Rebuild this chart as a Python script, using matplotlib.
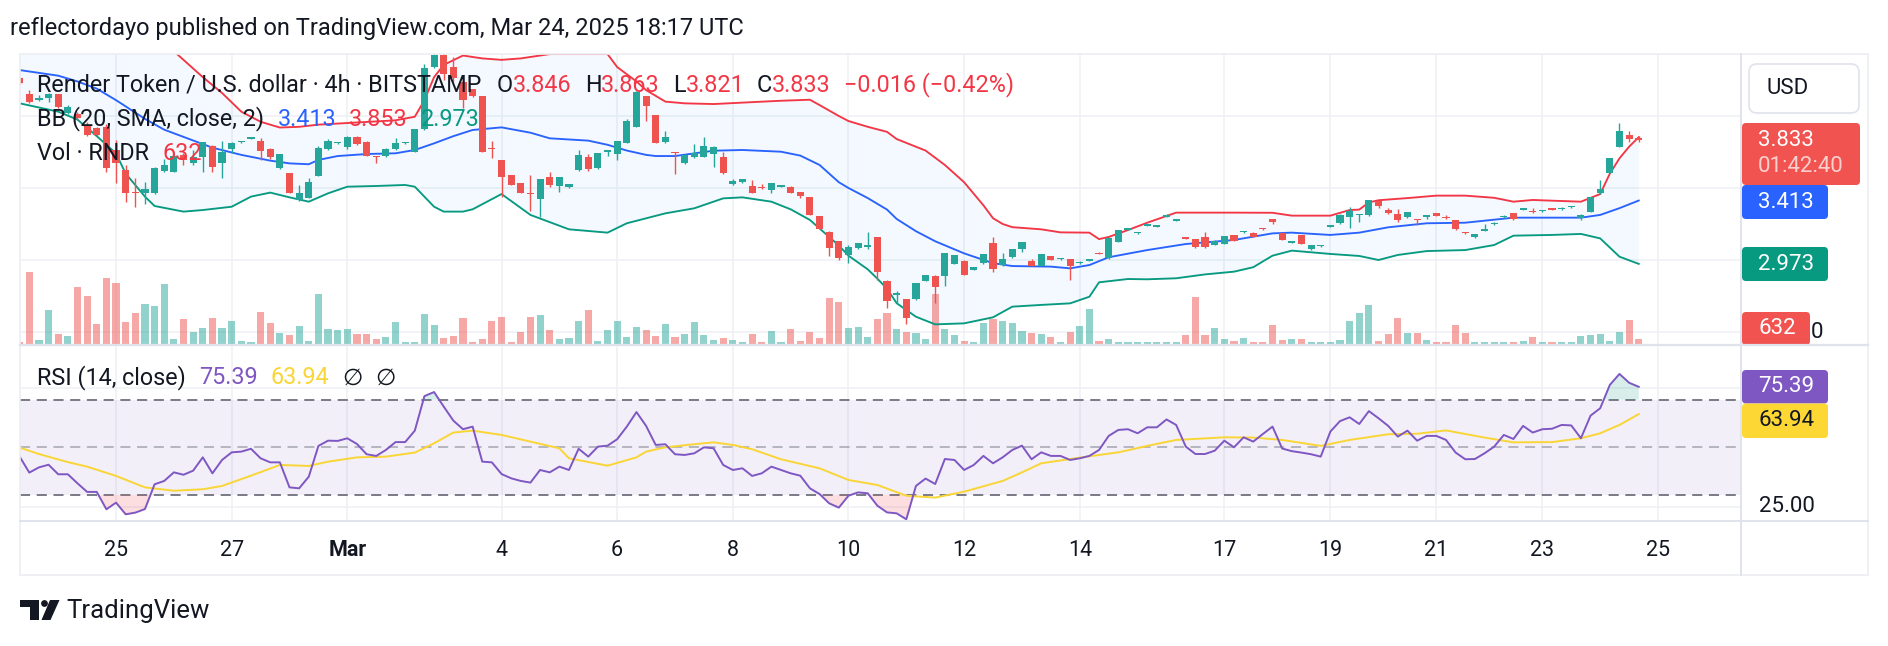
import numpy as np
import matplotlib.pyplot as plt
from matplotlib.patches import FancyBboxPatch, Polygon, Circle, Rectangle

plt.rcParams['font.family'] = ['Roboto', 'DejaVu Sans']

# --- 4h candles, RNDR/USD (Bitstamp), bars -1 .. 167 ---
opn = [4.262,
       4.150, 4.111, 4.127, 4.150, 4.019, 4.012, 3.931, 3.914, 3.926, 3.764,
       3.625, 3.475, 3.468, 3.463, 3.620, 3.613, 3.729, 3.671, 3.713, 3.792,
       3.671, 3.769, 3.819, 3.843, 3.829, 3.769, 3.637, 3.602, 3.417, 3.433,
       3.583, 3.769, 3.810, 3.782, 3.852, 3.822, 3.722, 3.722, 3.769, 3.810,
       3.752, 3.907, 4.338, 4.424, 4.343, 4.238, 4.185, 4.139, 3.775, 3.694,
       3.588, 3.532, 3.468, 3.426, 3.574, 3.514, 3.505, 3.625, 3.713, 3.637,
       3.752, 3.736, 3.815, 3.926, 4.139, 4.007, 3.822, 3.750, 3.671, 3.713,
       3.718, 3.736, 3.713, 3.525, 3.539, 3.514, 3.509, 3.486, 3.509, 3.509,
       3.472, 3.435, 3.306, 3.197, 3.132, 3.035, 3.086, 3.093, 3.157, 2.856,
       2.757, 2.727, 2.727, 2.856, 2.891, 2.889, 2.972, 2.995, 2.931, 2.977,
       3.120, 2.965, 3.019, 3.074, 2.995, 2.958, 3.028, 3.005, 3.005, 2.977,
       2.995, 3.051, 3.012, 3.127, 3.208, 3.185, 3.236, 3.231, 3.301, 3.273,
       3.157, 3.146, 3.162, 3.106, 3.111, 3.171, 3.192, 3.190, 3.222, 3.282,
       3.185, 3.120, 3.171, 3.074, 3.095, 3.231, 3.255, 3.301, 3.310, 3.310,
       3.412, 3.347, 3.319, 3.296, 3.282, 3.301, 3.324, 3.299, 3.278, 3.194,
       3.157, 3.204, 3.248, 3.296, 3.324, 3.350, 3.338, 3.338, 3.359, 3.352,
       3.366, 3.289, 3.336, 3.463, 3.606, 3.787, 3.868, 3.846]
high = [4.270,
        4.181, 4.146, 4.162, 4.155, 4.076, 4.030, 3.961, 3.926, 3.944, 3.833,
        3.660, 3.567, 3.544, 3.644, 3.699, 3.729, 3.741, 3.764, 3.822, 3.796,
        3.829, 3.822, 3.829, 3.852, 3.845, 3.775, 3.734, 3.605, 3.521, 3.567,
        3.792, 3.838, 3.819, 3.859, 3.863, 3.825, 3.724, 3.775, 3.845, 3.819,
        3.907, 4.361, 4.440, 4.440, 4.412, 4.250, 4.190, 4.142, 3.829, 3.696,
        3.592, 3.536, 3.590, 3.565, 3.609, 3.579, 3.530, 3.764, 3.734, 3.745,
        3.766, 3.829, 3.977, 4.176, 4.142, 4.010, 3.898, 3.752, 3.733, 3.803,
        3.852, 3.794, 3.752, 3.560, 3.563, 3.556, 3.530, 3.537, 3.524, 3.512,
        3.475, 3.438, 3.309, 3.200, 3.135, 3.104, 3.119, 3.192, 3.160, 2.859,
        2.787, 2.730, 2.841, 2.897, 2.894, 3.049, 3.035, 2.998, 2.952, 3.045,
        3.162, 3.046, 3.079, 3.126, 3.005, 3.045, 3.031, 3.017, 3.008, 2.991,
        3.008, 3.054, 3.158, 3.211, 3.225, 3.197, 3.251, 3.243, 3.316, 3.285,
        3.160, 3.149, 3.197, 3.137, 3.170, 3.174, 3.204, 3.193, 3.225, 3.285,
        3.188, 3.135, 3.174, 3.107, 3.107, 3.246, 3.316, 3.370, 3.322, 3.420,
        3.415, 3.359, 3.352, 3.334, 3.285, 3.313, 3.327, 3.313, 3.281, 3.197,
        3.181, 3.250, 3.262, 3.313, 3.327, 3.362, 3.359, 3.348, 3.362, 3.366,
        3.378, 3.316, 3.438, 3.556, 3.709, 3.954, 3.898, 3.863]
low = [4.225,
       4.088, 4.106, 4.100, 4.055, 4.014, 3.972, 3.861, 3.861, 3.613, 3.532,
       3.405, 3.370, 3.389, 3.458, 3.613, 3.610, 3.660, 3.660, 3.613, 3.613,
       3.572, 3.741, 3.815, 3.838, 3.694, 3.699, 3.630, 3.468, 3.412, 3.433,
       3.583, 3.764, 3.806, 3.769, 3.801, 3.725, 3.671, 3.718, 3.764, 3.806,
       3.752, 3.900, 4.330, 4.250, 4.238, 4.053, 4.135, 3.750, 3.706, 3.440,
       3.518, 3.465, 3.343, 3.296, 3.509, 3.475, 3.500, 3.620, 3.620, 3.633,
       3.722, 3.694, 3.812, 3.922, 3.968, 3.812, 3.815, 3.597, 3.668, 3.706,
       3.715, 3.644, 3.597, 3.522, 3.536, 3.466, 3.490, 3.468, 3.506, 3.465,
       3.433, 3.310, 3.212, 3.028, 3.000, 2.981, 3.074, 3.074, 2.861, 2.664,
       2.699, 2.556, 2.724, 2.853, 2.699, 2.819, 2.969, 2.893, 2.928, 2.972,
       2.919, 2.958, 3.016, 3.055, 2.955, 2.955, 2.997, 3.002, 2.861, 2.974,
       2.992, 3.039, 3.009, 3.124, 3.205, 3.182, 3.233, 3.228, 3.298, 3.270,
       3.145, 3.085, 3.085, 3.103, 3.108, 3.131, 3.189, 3.159, 3.210, 3.250,
       3.136, 3.117, 3.110, 3.071, 3.092, 3.228, 3.252, 3.220, 3.266, 3.307,
       3.359, 3.321, 3.266, 3.293, 3.243, 3.287, 3.303, 3.286, 3.210, 3.182,
       3.154, 3.201, 3.245, 3.293, 3.279, 3.347, 3.328, 3.335, 3.347, 3.349,
       3.363, 3.278, 3.333, 3.460, 3.603, 3.784, 3.822, 3.821]
close = [4.228,
         4.095, 4.127, 4.150, 4.060, 4.060, 3.984, 3.868, 3.868, 3.637, 3.671,
         3.463, 3.468, 3.491, 3.637, 3.660, 3.722, 3.694, 3.718, 3.822, 3.648,
         3.752, 3.815, 3.829, 3.852, 3.759, 3.718, 3.734, 3.468, 3.463, 3.539,
         3.775, 3.829, 3.819, 3.852, 3.806, 3.725, 3.713, 3.769, 3.815, 3.819,
         3.907, 4.331, 4.424, 4.292, 4.262, 4.111, 4.139, 3.752, 3.769, 3.579,
         3.521, 3.468, 3.458, 3.563, 3.521, 3.574, 3.525, 3.729, 3.630, 3.741,
         3.764, 3.829, 3.968, 4.169, 4.069, 3.815, 3.852, 3.741, 3.729, 3.741,
         3.794, 3.782, 3.602, 3.549, 3.560, 3.468, 3.500, 3.537, 3.521, 3.468,
         3.444, 3.313, 3.215, 3.081, 3.012, 3.093, 3.116, 3.102, 2.919, 2.715,
         2.769, 2.595, 2.838, 2.894, 2.815, 3.046, 3.032, 2.896, 2.949, 3.042,
         2.935, 3.007, 3.076, 3.123, 2.958, 3.042, 3.000, 3.014, 2.958, 2.988,
         3.005, 3.042, 3.155, 3.208, 3.222, 3.194, 3.248, 3.240, 3.313, 3.282,
         3.148, 3.088, 3.088, 3.134, 3.167, 3.134, 3.201, 3.162, 3.213, 3.266,
         3.139, 3.132, 3.113, 3.104, 3.104, 3.243, 3.313, 3.343, 3.319, 3.417,
         3.375, 3.324, 3.278, 3.331, 3.275, 3.310, 3.306, 3.289, 3.213, 3.185,
         3.178, 3.215, 3.259, 3.306, 3.282, 3.359, 3.331, 3.345, 3.350, 3.363,
         3.375, 3.313, 3.435, 3.491, 3.706, 3.898, 3.838, 3.833]
volume = [252,
          9114, 504, 4284, 1260, 1008, 7182, 6048, 2520, 8316, 7686,
          2772, 3906, 5040, 4788, 7560, 630, 3150, 1512, 2016, 3276,
          2016, 2898, 378, 252, 4032, 2646, 1386, 1134, 2268, 378,
          6300, 1890, 1764, 1890, 1260, 1260, 630, 882, 2772, 252,
          252, 3780, 2394, 756, 1008, 3276, 252, 630, 2898, 3402,
          252, 1512, 3402, 3654, 1764, 630, 756, 2898, 4284, 378,
          1764, 2898, 882, 2142, 1764, 1008, 2520, 882, 1260, 2772,
          1134, 504, 756, 504, 252, 1260, 252, 1638, 252, 1890,
          378, 1512, 756, 5838, 5292, 2016, 2142, 882, 3150, 3906,
          1890, 1512, 1386, 630, 6300, 1890, 1134, 378, 252, 2646,
          3150, 2898, 2646, 1638, 1386, 1260, 882, 252, 1512, 2268,
          4410, 378, 630, 252, 252, 252, 252, 252, 252, 252,
          1134, 5922, 1134, 2016, 630, 378, 756, 252, 252, 2394,
          504, 630, 630, 252, 252, 252, 504, 2898, 3906, 4914,
          378, 1260, 3276, 1386, 1386, 504, 252, 252, 2394, 1386,
          252, 252, 252, 252, 252, 378, 882, 252, 252, 252,
          252, 1008, 1134, 1260, 378, 1512, 3024, 632]
rsi = [46.1,
       39.4, 41.6, 42.7, 38.7, 38.7, 34.9, 31.3, 31.3, 24.0, 26.8,
       21.9, 22.6, 24.1, 34.5, 35.9, 39.5, 38.5, 40.2, 45.8, 39.1,
       44.7, 47.9, 48.2, 49.4, 45.4, 43.7, 43.7, 33.2, 32.8, 37.7,
       50.6, 52.8, 52.7, 53.8, 51.4, 47.1, 46.4, 48.9, 52.2, 52.2,
       57.0, 71.5, 73.2, 67.1, 61.2, 57.6, 58.7, 44.0, 43.7, 38.8,
       37.0, 35.9, 35.2, 40.5, 39.5, 41.9, 40.5, 49.4, 46.1, 50.3,
       50.7, 53.4, 58.7, 64.8, 59.0, 51.0, 51.3, 47.1, 46.8, 47.5,
       50.0, 49.6, 42.6, 40.5, 41.2, 38.0, 39.1, 41.9, 40.5, 39.1,
       38.1, 32.8, 30.4, 26.5, 24.7, 29.7, 31.1, 30.7, 25.5, 22.7,
       22.3, 19.8, 33.8, 36.9, 34.6, 45.1, 44.7, 40.5, 42.6, 46.4,
       43.3, 45.8, 48.9, 50.7, 45.0, 47.9, 46.4, 46.4, 44.7, 45.4,
       46.4, 48.9, 54.8, 57.3, 57.6, 55.9, 58.4, 58.4, 61.7, 59.4,
       50.3, 47.2, 47.2, 48.6, 52.8, 50.0, 54.2, 52.4, 55.6, 58.7,
       49.5, 48.4, 47.8, 47.1, 46.1, 56.6, 61.0, 62.6, 59.8, 65.2,
       62.2, 59.0, 54.5, 57.0, 52.8, 54.8, 54.8, 53.1, 47.8, 45.0,
       45.1, 47.5, 50.3, 55.2, 53.5, 59.0, 56.2, 57.6, 57.8, 59.4,
       59.2, 53.8, 63.3, 66.4, 76.2, 80.8, 77.1, 75.39]
bars = np.arange(-1, 168)

# Bollinger bands (20, SMA, 2): bar index -> value
bb_up_i = [-1, 6, 12, 15, 18, 20, 22, 24, 26, 28, 30, 34, 38, 40, 41, 42, 43, 45, 47, 49,
           51, 54, 60, 61, 63, 64, 66, 68, 71, 74, 78, 81, 82, 84, 85, 87, 89, 90, 93, 95,
           97, 99, 100, 101, 102, 105, 107, 110, 111, 112, 114, 116, 119, 125, 129, 131, 135,
           137, 138, 139, 140, 143, 146, 149, 152, 154, 156, 158, 161, 163, 164, 165, 166, 167]
bb_up_v = [4.62, 4.62, 4.55, 4.45, 4.27, 4.16, 4.03, 3.96, 3.92, 3.925, 3.94, 3.955, 3.97, 3.995,
           4.11, 4.27, 4.355, 4.42, 4.40, 4.39, 4.40, 4.43, 4.43, 4.34, 4.24, 4.18, 4.10, 4.088,
           4.083, 4.093, 4.106, 4.113, 4.076, 4.00, 3.965, 3.925, 3.89, 3.84, 3.76, 3.66, 3.54,
           3.38, 3.29, 3.25, 3.228, 3.213, 3.192, 3.19, 3.145, 3.16, 3.208, 3.259, 3.329, 3.329,
           3.328, 3.308, 3.308, 3.347, 3.35, 3.40, 3.415, 3.43, 3.447, 3.447, 3.432, 3.405, 3.417,
           3.412, 3.405, 3.458, 3.60, 3.706, 3.787, 3.853]
bb_mid_i = [-1, 3, 5, 7, 9, 12, 14, 17, 19, 22, 25, 27, 29, 30, 32, 35, 38, 40, 42, 44, 46, 49,
            52, 54, 58, 60, 62, 64, 65, 67, 71, 74, 78, 80, 82, 84, 85, 87, 89, 90, 92, 94, 97,
            100, 102, 106, 108, 110, 112, 116, 120, 125, 129, 131, 135, 138, 141, 145, 149, 154,
            161, 163, 165, 167]
bb_mid_v = [4.319, 4.28, 4.24, 4.19, 4.11, 3.98, 3.905, 3.83, 3.78, 3.73, 3.69, 3.671, 3.665,
            3.695, 3.722, 3.736, 3.741, 3.764, 3.81, 3.86, 3.903, 3.921, 3.884, 3.845, 3.829,
            3.80, 3.76, 3.73, 3.722, 3.722, 3.759, 3.764, 3.752, 3.725, 3.66, 3.54, 3.50, 3.43,
            3.35, 3.285, 3.20, 3.13, 3.046, 2.978, 2.958, 2.954, 2.942, 2.965, 3.019, 3.069,
            3.111, 3.139, 3.185, 3.19, 3.174, 3.19, 3.227, 3.255, 3.259, 3.294, 3.294, 3.313,
            3.36, 3.413]
bb_lo_i = [-1, 3, 5, 7, 9, 10, 12, 13, 16, 18, 21, 23, 25, 27, 29, 31, 33, 36, 39, 40, 42, 43,
           45, 46, 49, 52, 56, 60, 62, 66, 69, 72, 74, 77, 79, 81, 83, 84, 85, 87, 88, 89, 90,
           92, 94, 97, 100, 102, 105, 108, 110, 111, 114, 116, 119, 122, 125, 127, 129, 131,
           135, 138, 140, 142, 145, 149, 152, 154, 158, 161, 163, 165, 167]
bb_lo_v = [4.088, 4.03, 3.975, 3.86, 3.74, 3.60, 3.44, 3.375, 3.336, 3.347, 3.37, 3.44, 3.468,
           3.435, 3.405, 3.463, 3.509, 3.514, 3.521, 3.509, 3.37, 3.336, 3.336, 3.352, 3.458,
           3.313, 3.213, 3.19, 3.255, 3.324, 3.359, 3.428, 3.435, 3.405, 3.352, 3.278, 3.16,
           3.10, 3.03, 2.935, 2.87, 2.80, 2.70, 2.606, 2.553, 2.56, 2.602, 2.676, 2.688, 2.699,
           2.745, 2.845, 2.868, 2.866, 2.873, 2.90, 2.919, 2.95, 3.03, 3.065, 3.042, 3.028, 3.0,
           3.035, 3.062, 3.069, 3.104, 3.169, 3.174, 3.181, 3.150, 3.023, 2.973]

# RSI-based MA (yellow)
rsi_ma_i = [-1, 1, 4, 6, 9, 12, 15, 18, 20, 23, 26, 29, 31, 34, 37, 40, 42, 44, 46, 49, 52, 55,
            56, 60, 63, 64, 66, 69, 71, 73, 75, 78, 82, 85, 88, 91, 94, 97, 101, 103, 105, 109,
            113, 116, 119, 124, 127, 130, 134, 137, 141, 144, 147, 151, 154, 158, 161, 163, 165,
            167]
rsi_ma_v = [49.9, 47.2, 43.8, 41.9, 38.0, 33.2, 31.8, 32.4, 33.8, 38.1, 42.6, 42.2, 44.0, 45.8,
            46.1, 47.8, 51.7, 56.2, 57.0, 55.2, 52.4, 49.6, 45.4, 42.3, 45.8, 48.2, 50.0, 51.3,
            52.1, 51.0, 49.2, 45.0, 41.2, 36.3, 34.2, 29.7, 28.9, 31.4, 35.9, 39.5, 43.3, 45.7,
            47.9, 50.6, 53.1, 54.2, 54.1, 53.1, 50.6, 53.1, 55.5, 55.7, 57.1, 54.1, 52.1, 52.2,
            53.8, 55.9, 59.4, 63.94]

# day ticks on the time axis (bar index of 00:00)
tick_idx = [9, 21, 33, 49, 61, 73, 85, 97, 109, 124, 135, 146, 157, 169]
tick_lbl = ['25', '27', 'Mar', '4', '6', '8', '10', '12', '14', '17', '19', '21', '23', '25']

# --- layout (pixels) ---
W, H = 1888, 646
X0, X1 = 20, 1741
MAIN_TOP, MAIN_BOT, RSI_BOT = 54, 345, 521
XL = (-0.965, 177.61)
UP, DN = '#26A69A', '#EF5350'
TXT = '#131722'
GRID = '#EEF0F4'

o, h, l, c = map(np.array, (opn, high, low, close))
vol = np.array(volume)
rsi = np.array(rsi)
cols = np.where(c >= o, UP, DN)

fig = plt.figure(figsize=(W / 100, H / 100), dpi=100)
ax = fig.add_axes([X0 / W, 1 - MAIN_BOT / H, (X1 - X0) / W, (MAIN_BOT - MAIN_TOP) / H])
ax2 = fig.add_axes([X0 / W, 1 - RSI_BOT / H, (X1 - X0) / W, (RSI_BOT - MAIN_BOT) / H])

for a in (ax, ax2):
    a.set_xlim(*XL)
    a.set_xticks([])
    a.set_yticks([])
    for s in a.spines.values():
        s.set_visible(False)
    for t in tick_idx:
        a.axvline(t, color=GRID, lw=1.1, zorder=0)

# --- price pane ---
ax.set_ylim(2.4097, 4.4306)
for g in (2.5, 3.0, 3.5, 4.0):
    ax.axhline(g, color=GRID, lw=1.1, zorder=0)

# volume overlay at the bottom of the pane
ax.bar(bars, vol / 36680, bottom=1 / 291, width=0.74, color=cols, alpha=0.5,
       transform=ax.get_xaxis_transform(), zorder=1)

# bollinger bands
ax.fill(np.r_[bb_up_i, bb_lo_i[::-1]], np.r_[bb_up_v, bb_lo_v[::-1]],
        color='#2196F3', alpha=0.05, lw=0, zorder=0.5)
ax.plot(bb_up_i, bb_up_v, color='#F23645', lw=1.35, zorder=2)
ax.plot(bb_mid_i, bb_mid_v, color='#2962FF', lw=1.35, zorder=2)
ax.plot(bb_lo_i, bb_lo_v, color='#089981', lw=1.35, zorder=2)

# candles
ax.vlines(bars, l, h, colors=cols, lw=1.0, zorder=3)
ax.bar(bars, np.maximum(np.abs(c - o), 0.007), bottom=np.minimum(o, c), width=0.74,
       color=cols, zorder=3.5)

# --- RSI pane ---
ax2.set_ylim(19.09, 92.94)
for g in (25, 75):
    ax2.axhline(g, color=GRID, lw=1.1, zorder=0)
ax2.axhspan(30, 70, color='#7E57C2', alpha=0.09, lw=0, zorder=0.5)
ax2.axhline(70, color='#787B86', lw=1.4, ls=(0, (5.2, 3.4)), zorder=1)
ax2.axhline(30, color='#787B86', lw=1.4, ls=(0, (5.2, 3.4)), zorder=1)
ax2.axhline(50, color='#787B86', lw=1.4, ls=(0, (5.2, 3.4)), alpha=0.5, zorder=1)
ax2.fill_between(bars, rsi, 30, where=rsi < 30, interpolate=True, color='#F23645',
                 alpha=0.16, lw=0, zorder=1)
ax2.fill_between(bars, rsi, 70, where=rsi > 70, interpolate=True, color='#089981',
                 alpha=0.16, lw=0, zorder=1)
ax2.plot(rsi_ma_i, rsi_ma_v, color='#F9D535', lw=1.4, zorder=2)
ax2.plot(bars, rsi, color='#7E57C2', lw=1.4, zorder=3)

# --- overlay in pixel coordinates: frame, texts, scale labels ---
bg = fig.add_axes([0, 0, 1, 1], zorder=5)
bg.set_xlim(0, W)
bg.set_ylim(H, 0)
bg.axis('off')
bg.patch.set_visible(False)


def ix(i):
    return X0 + (i - XL[0]) / (XL[1] - XL[0]) * (X1 - X0)


FR = '#E0E3EB'
bg.add_patch(Rectangle((X0, MAIN_TOP), 1868 - X0, 575 - MAIN_TOP, fc='none', ec='#EBEDF1', lw=1.2))
bg.plot([X0, 1868], [MAIN_BOT, MAIN_BOT], color=FR, lw=1.6)
bg.plot([X0, 1868], [RSI_BOT, RSI_BOT], color=FR, lw=1.4)
bg.plot([X1, X1], [MAIN_TOP, 575], color=FR, lw=1.4)

for t, s in zip(tick_idx, tick_lbl):
    bg.text(ix(t), 550, s, ha='center', va='center', fontsize=15.5, color=TXT,
            weight='bold' if s == 'Mar' else 'normal')

bg.text(10, 28, 'reflectordayo published on TradingView.com, Mar 24, 2025 18:17 UTC',
        fontsize=17, color=TXT, va='center', ha='left')

FS = 16.8
RED_T = '#F23645'
legend = [
    (36.7, 85, 'Render Token / U.S. dollar · 4h · BITSTAMP', TXT),
    (497, 85, 'O', TXT), (513, 85, '3.846', RED_T),
    (585, 85, 'H', TXT), (601, 85, '3.863', RED_T),
    (673, 85, 'L', TXT), (686, 85, '3.821', RED_T),
    (757, 85, 'C', TXT), (772, 85, '3.833', RED_T),
    (844, 85, '−0.016 (−0.42%)', RED_T),
    (36.7, 119, 'BB (20, SMA, close, 2)', TXT),
    (277.7, 119, '3.413', '#2962FF'), (349, 119, '3.853', RED_T), (421, 119, '2.973', '#089981'),
    (36.7, 153, 'Vol · RNDR', TXT), (162.7, 153, '632', RED_T),
    (36.7, 378, 'RSI (14, close)', TXT),
    (199, 378, '75.39', '#7E57C2'), (270, 378, '63.94', '#F9D535'),
    (342, 378, '∅', TXT), (375, 378, '∅', TXT),
]
for x, y, s, col in legend:
    bg.text(x, y, s, fontsize=FS, color=col, ha='left', va='center')

LS = 16


def scale_label(y0, y1, w, fc, lines):
    bg.add_patch(FancyBboxPatch((X1 + 1, y0), w, y1 - y0,
                                boxstyle='round,pad=0,rounding_size=4', fc=fc, ec='none'))
    for yy, s, tc in lines:
        bg.text(1758, yy, s, fontsize=LS, color=tc, ha='left', va='center')


bg.add_patch(FancyBboxPatch((1749, 64), 110, 49, boxstyle='round,pad=0,rounding_size=8',
                            fc='white', ec=FR, lw=1.2))
bg.text(1767, 89, 'USD', fontsize=LS, color=TXT, ha='left', va='center')

# tail of the hidden scale tick, peeking out right of the volume label
bg.text(1811, 333, '0', fontsize=LS, color=TXT, ha='left', va='center')
scale_label(123, 185, 118, '#F05350', [(140, '3.833', 'white'), (167, '01:42:40', '#FAD0CE')])
scale_label(185, 219, 86, '#2962FF', [(202, '3.413', 'white')])
scale_label(247, 281, 86, '#089981', [(264, '2.973', 'white')])
scale_label(312, 345, 68, '#F05350', [(328, '632', 'white')])
scale_label(370, 403.5, 86, '#7E57C2', [(387, '75.39', 'white')])
scale_label(403.5, 438, 86, '#FDD835', [(421, '63.94', TXT)])
bg.text(1759, 507, '25.00', fontsize=LS, color=TXT, ha='left', va='center')

# TradingView logo
bg.add_patch(Polygon([(20, 600), (39, 600), (39, 620), (29.5, 620), (29.5, 606.5), (20, 606.5)],
                     closed=True, fc=TXT, ec='none'))
bg.add_patch(Circle((44.5, 603.5), 3.4, fc=TXT, ec='none'))
bg.add_patch(Polygon([(50, 600), (59.5, 600), (50.5, 620), (41.5, 620)], closed=True,
                     fc=TXT, ec='none'))
bg.text(66.5, 611, 'TradingView', fontsize=18.5, color=TXT, ha='left', va='center')

fig.savefig('out.png', dpi=100, facecolor='white')
